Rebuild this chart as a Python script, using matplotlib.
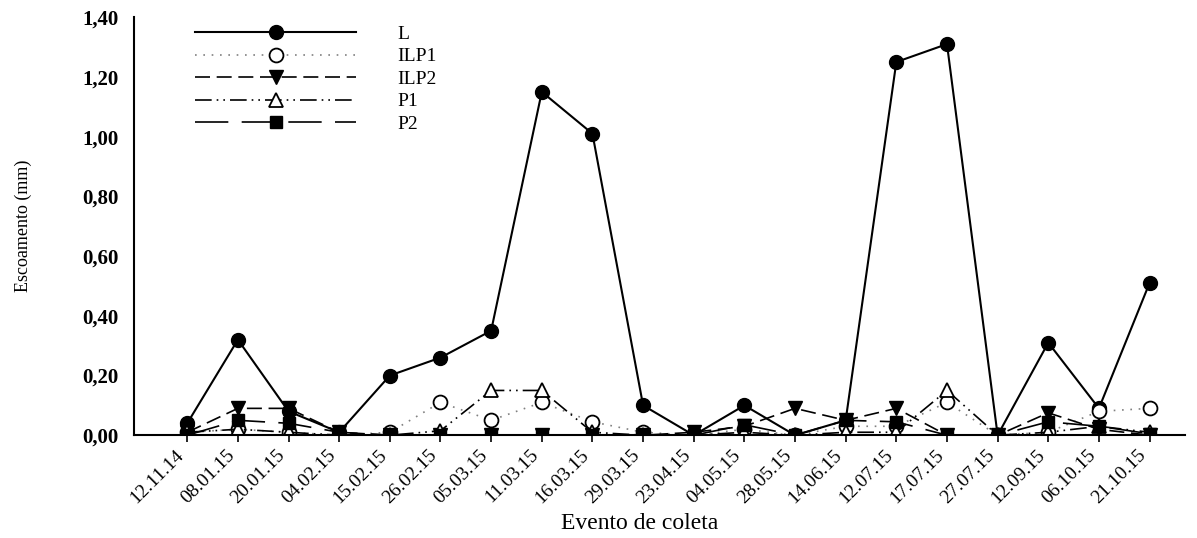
import matplotlib.pyplot as plt
from matplotlib.ticker import FuncFormatter

datas = ["12.11.14", "08.01.15", "20.01.15", "04.02.15", "15.02.15", "26.02.15",
         "05.03.15", "11.03.15", "16.03.15", "29.03.15", "23.04.15", "04.05.15",
         "28.05.15", "14.06.15", "12.07.15", "17.07.15", "27.07.15", "12.09.15",
         "06.10.15", "21.10.15"]

L    = [0.04, 0.32, 0.08, 0.01, 0.20, 0.26, 0.35, 1.15, 1.01, 0.10,
        0.00, 0.10, 0.00, 0.05, 1.25, 1.31, 0.00, 0.31, 0.09, 0.51]
ILP1 = [0.01, 0.02, 0.01, 0.00, 0.01, 0.11, 0.05, 0.11, 0.045, 0.01,
        0.00, 0.02, 0.00, 0.03, 0.03, 0.11, 0.00, 0.01, 0.08, 0.09]
ILP2 = [0.01, 0.09, 0.09, 0.01, 0.00, 0.00, 0.00, 0.00, 0.00, 0.00,
        0.01, 0.03, 0.09, 0.05, 0.09, 0.00, 0.00, 0.075, 0.02, 0.00]
P1   = [0.01, 0.02, 0.01, 0.00, 0.00, 0.015, 0.15, 0.15, 0.01, 0.00,
        0.00, 0.01, 0.00, 0.01, 0.01, 0.15, 0.00, 0.01, 0.03, 0.01]
P2   = [0.00, 0.05, 0.04, 0.01, 0.00, 0.00, 0.00, 0.00, 0.00, 0.00,
        0.00, 0.035, 0.00, 0.05, 0.045, 0.00, 0.00, 0.045, 0.03, 0.005]

plt.rcParams['font.family'] = ['Liberation Serif', 'DejaVu Serif']

fig = plt.figure(figsize=(11.97, 5.38), dpi=100)
ax = fig.add_axes([0.112, 0.191, 0.878, 0.777])

x = list(range(len(datas)))
ax.plot(x, L, color="black", lw=1.5, ls="-", marker="o", ms=10,
        mfc="black", mec="black", label="L")
ax.plot(x, ILP1, color="grey", lw=1.2, ls=(0, (1, 4)), marker="o", ms=10,
        mfc="white", mec="black", mew=1.3, label="ILP1")
ax.plot(x, ILP2, color="black", lw=1.2, ls=(0, (9, 4)), marker="v", ms=10,
        mfc="black", mec="black", label="ILP2")
ax.plot(x, P1, color="black", lw=1.2, ls=(0, (10, 3, 1, 3, 1, 3)), marker="^", ms=10,
        mfc="white", mec="black", mew=1.3, label="P1")
ax.plot(x, P2, color="black", lw=1.2, ls=(0, (20, 8)), marker="s", ms=9,
        mfc="black", mec="black", label="P2")

ax.set_xlim(-1.05, 19.7)
ax.set_ylim(0, 1.40)
ax.set_yticks([0, 0.2, 0.4, 0.6, 0.8, 1.0, 1.2, 1.4])
ax.yaxis.set_major_formatter(FuncFormatter(lambda v, p: f"{v:.2f}".replace(".", ",")))
ax.set_xticks(x)
ax.set_xticklabels(datas, rotation=45, ha="right", fontsize=14)
ax.tick_params(axis="y", length=0, labelsize=15, pad=11)
ax.tick_params(axis="x", direction="out", length=5, width=1.2, pad=3)
for lbl in ax.get_yticklabels():
    lbl.set_fontweight("bold")

ax.spines["top"].set_visible(False)
ax.spines["right"].set_visible(False)
ax.spines["left"].set_linewidth(1.5)
ax.spines["bottom"].set_linewidth(1.5)

ax.set_ylabel("Escoamento (mm)", fontsize=13)
ax.yaxis.set_label_coords(-0.097, 0.5)
ax.set_xlabel("Evento de coleta", fontsize=17, va="center")
ax.xaxis.set_label_coords(0.481, -0.21)

ax.legend(loc="upper left", bbox_to_anchor=(0.163, 0.953), bbox_transform=fig.transFigure,
          frameon=False, fontsize=14, handlelength=8.3, handletextpad=2.1,
          labelspacing=0.25, borderpad=0, borderaxespad=0)

fig.savefig("out.png", dpi=100)
